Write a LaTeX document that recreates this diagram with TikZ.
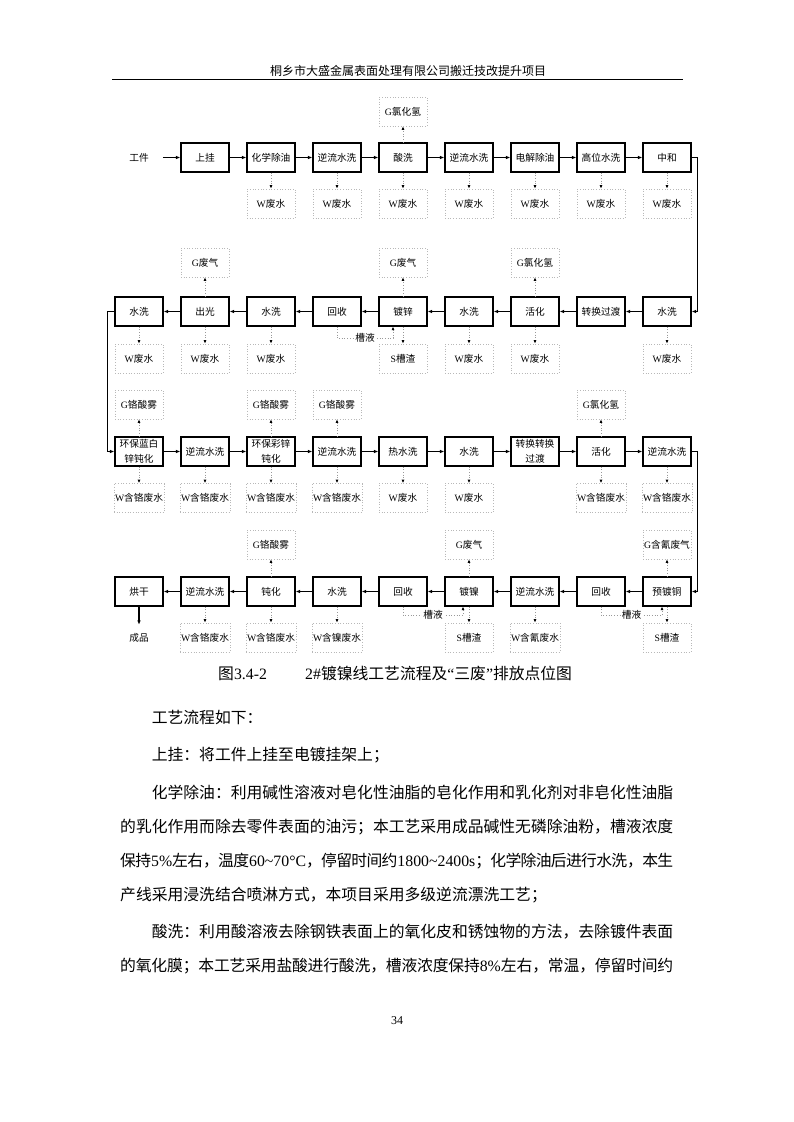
\documentclass[tikz,border=0pt]{standalone}
\usepackage{fontspec}
\setmainfont{Liberation Serif}
\newfontfamily\cjk{Noto Sans CJK SC}
\newfontfamily\latf{Liberation Serif}
\newcommand\lt[1]{{\latf #1}}
\newcommand\dfont{\cjk\fontsize{9.7}{15}\selectfont}
\newcommand\bfont{\cjk\fontsize{15.8}{20}\selectfont}
\XeTeXlinebreaklocale "zh"
\XeTeXlinebreakskip=0pt plus 2pt minus 2pt
\usetikzlibrary{arrows.meta}
\tikzset{
 proc/.style={draw, line width=1.2pt, minimum width=48pt, minimum height=29pt, inner sep=1pt, align=center, font=\dfont},
 emit/.style={draw=black!28, dotted, line width=0.7pt, minimum width=48pt, minimum height=29pt, inner sep=1pt, font=\dfont},
 flow/.style={line width=1.2pt, -{Latex[length=4.5pt,width=3.6pt]}},
 dflow/.style={draw=black!40, dotted, line width=0.7pt, -{Latex[length=3.5pt,width=3pt,color=black]}},
 lbl/.style={font=\dfont, inner sep=0pt},
 tag/.style={font=\dfont, fill=white, inner sep=1pt},
 bodyl/.style={anchor=base west, inner sep=0pt, text width=553pt, align=justify, font=\bfont},
}
\begin{document}
\begin{tikzpicture}[x=1pt,y=-1pt]
\fill[white] (0,0) rectangle (793,1122);
\useasboundingbox (0,0) rectangle (793,1122);
% header
\node[font=\cjk\fontsize{12}{14}\selectfont, inner sep=0pt] (hd) at (408,70.5) {桐乡市大盛金属表面处理有限公司搬迁技改提升项目};
\draw[line width=0.75pt] (112,79) -- (683,79);

% ---------- row 1
\node[lbl] (gj) at (139,157.5) {工件};
\foreach \c/\t in {1/上挂,2/化学除油,3/逆流水洗,4/酸洗,5/逆流水洗,6/电解除油,7/高位水洗,8/中和}
  \node[proc] (m1c\c) at ({139+66*\c},157.5) {\t};
\node[emit] (g1c4) at ({139+66*4},111.5) {\lt{G}氯化氢};
\foreach \c in {2,...,8}
  \node[emit] (w1c\c) at ({139+66*\c},203.5) {\lt{W}废水};

% ---------- row 2
\foreach \c/\t in {0/水洗,1/出光,2/水洗,3/回收,4/镀锌,5/水洗,6/活化,7/转换过渡,8/水洗}
  \node[proc] (m2c\c) at ({139+66*\c},311.5) {\t};
\foreach \c/\t in {1/废气,4/废气,6/氯化氢}
  \node[emit] (g2c\c) at ({139+66*\c},262.5) {\lt{G}\t};
\foreach \c in {0,1,2,5,6,8}
  \node[emit] (w2c\c) at ({139+66*\c},358.5) {\lt{W}废水};
\node[emit] (w2c4) at ({139+66*4},358.5) {\lt{S}槽渣};

% ---------- row 3
\foreach \c/\t in {0/{环保蓝白\\锌钝化},1/逆流水洗,2/{环保彩锌\\钝化},3/逆流水洗,4/热水洗,5/水洗,6/{转换转换\\过渡},7/活化,8/逆流水洗}
  \node[proc] (m3c\c) at ({139+66*\c},451.5) {\t};
\foreach \c/\t in {0/铬酸雾,2/铬酸雾,3/铬酸雾,7/氯化氢}
  \node[emit] (g3c\c) at ({139+66*\c},404.5) {\lt{G}\t};
\foreach \c/\t in {0/含铬废水,1/含铬废水,2/含铬废水,3/含铬废水,4/废水,5/废水,7/含铬废水,8/含铬废水}
  \node[emit] (w3c\c) at ({139+66*\c},498) {\lt{W}\t};

% ---------- row 4
\foreach \c/\t in {0/烘干,1/逆流水洗,2/钝化,3/水洗,4/回收,5/镀镍,6/逆流水洗,7/回收,8/预镀铜}
  \node[proc] (m4c\c) at ({139+66*\c},591.5) {\t};
\foreach \c/\t in {2/铬酸雾,5/废气,8/含氰废气}
  \node[emit] (g4c\c) at ({139+66*\c},544.5) {\lt{G}\t};
\foreach \c/\t in {1/含铬废水,2/含铬废水,3/含镍废水,6/含氰废水}
  \node[emit] (w4c\c) at ({139+66*\c},637.5) {\lt{W}\t};
\foreach \c in {5,8}
  \node[emit] (w4c\c) at ({139+66*\c},637.5) {\lt{S}槽渣};
\node[lbl] (cp) at (139,637.5) {成品};

% ---------- connectors row 1
\draw[flow] ([xshift=14pt]gj.east) -- (m1c1);
\foreach \a/\b in {1/2,2/3,3/4,4/5,5/6,6/7,7/8}
  \draw[flow] (m1c\a) -- (m1c\b);
\draw[dflow] (m1c4) -- (g1c4);
\foreach \c in {2,...,8}
  \draw[dflow] (m1c\c) -- (w1c\c);
\draw[flow] (m1c8.east) -- ++(6,0) |- (m2c8.east);

% ---------- connectors row 2
\foreach \a/\b in {8/7,7/6,6/5,5/4,4/3,3/2,2/1,1/0}
  \draw[flow] (m2c\a) -- (m2c\b);
\foreach \c in {1,4,6}
  \draw[dflow] (m2c\c) -- (g2c\c);
\foreach \c in {0,1,2,4,5,6,8}
  \draw[dflow] (m2c\c) -- (w2c\c);
\draw[dflow] (m2c3.south) -- ++(0,11.5) -| ([xshift=-10pt]m2c4.south) node[tag, pos=0.25] {槽液};
\draw[flow] (m2c0.west) -- ++(-7,0) |- (m3c0.west);

% ---------- connectors row 3
\foreach \a/\b in {0/1,1/2,2/3,3/4,4/5,5/6,6/7,7/8}
  \draw[flow] (m3c\a) -- (m3c\b);
\foreach \c in {0,2,3,7}
  \draw[dflow] (m3c\c) -- (g3c\c);
\foreach \c in {0,1,2,3,4,5,7,8}
  \draw[dflow] (m3c\c) -- (w3c\c);
\draw[flow] (m3c8.east) -- ++(6,0) |- (m4c8.east);

% ---------- connectors row 4
\foreach \a/\b in {8/7,7/6,6/5,5/4,4/3,3/2,2/1,1/0}
  \draw[flow] (m4c\a) -- (m4c\b);
\foreach \c in {2,5,8}
  \draw[dflow] (m4c\c) -- (g4c\c);
\foreach \c in {1,2,3,5,6,8}
  \draw[dflow] (m4c\c) -- (w4c\c);
\draw[flow] (m4c0.south) -- ([yshift=8pt]cp.north);
\draw[dflow] (m4c4.south) -- ++(0,8.5) -| ([xshift=-6pt]m4c5.south) node[tag, pos=0.25] {槽液};
\draw[dflow] (m4c7.south) -- ++(0,8.5) -| ([xshift=-5pt]m4c8.south) node[tag, pos=0.25] {槽液};

% ---------- caption
\node[font=\bfont, anchor=base west, inner sep=0pt] (cap1) at (218,679) {图\lt{3.4-2}};
\node[font=\bfont, anchor=base west, inner sep=0pt] (cap2) at (305,679) {\lt{2\#}镀镍线工艺流程及\lt{“}三废\lt{”}排放点位图};

% ---------- body text
\node[bodyl] (t1) at (120,723) {\hspace*{2em}工艺流程如下：};
\node[bodyl] (t2) at (120,760.5) {\hspace*{2em}上挂：将工件上挂至电镀挂架上；};
\node[bodyl] (t3) at (120,798) {\parfillskip=0pt\hspace*{2em}化学除油：利用碱性溶液对皂化性油脂的皂化作用和乳化剂对非皂化性油脂};
\node[bodyl] (t4) at (120,832) {\parfillskip=0pt 的乳化作用而除去零件表面的油污；本工艺采用成品碱性无磷除油粉，槽液浓度};
\node[bodyl] (t5) at (120,866) {\parfillskip=0pt 保持\lt{5\%}左右，温度\lt{60\textasciitilde70°C}，停留时间约\lt{1800\textasciitilde2400s}；化学除油后进行水洗，本生};
\node[bodyl] (t6) at (120,900) {产线采用浸洗结合喷淋方式，本项目采用多级逆流漂洗工艺；};
\node[bodyl] (t7) at (120,937.5) {\parfillskip=0pt\hspace*{2em}酸洗：利用酸溶液去除钢铁表面上的氧化皮和锈蚀物的方法，去除镀件表面};
\node[bodyl] (t8) at (120,971.5) {\parfillskip=0pt 的氧化膜；本工艺采用盐酸进行酸洗，槽液浓度保持\lt{8\%}左右，常温，停留时间约};

% page number
\node[font=\latf\fontsize{12}{14}\selectfont, inner sep=0pt] (pg) at (397,1021) {34};
\end{tikzpicture}
\end{document}
